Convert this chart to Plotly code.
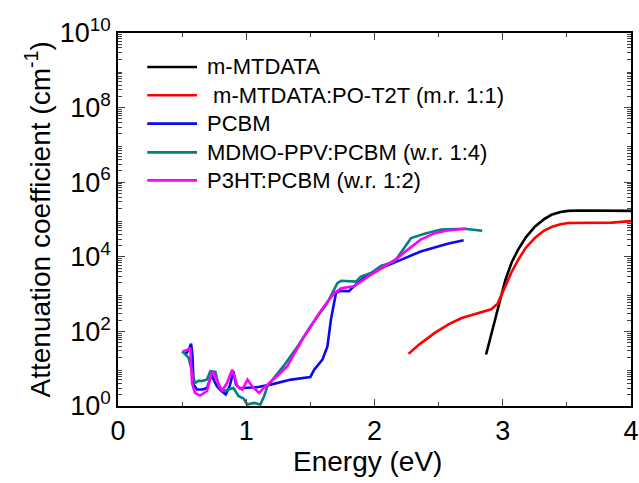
import plotly.graph_objects as go

# m-MTDATA
e_mtdata = [2.87, 2.92, 2.97, 3.02, 3.07, 3.12, 3.18, 3.25, 3.32, 3.38, 3.45, 3.51, 3.60, 3.80, 4.00]
a_mtdata = [24, 115, 529, 2385, 7130, 15580, 33250, 64440, 100600, 133700, 158400, 170000,
            174200, 174200, 170000]

# m-MTDATA:PO-T2T (m.r. 1:1)
e_blend = [2.265, 2.35, 2.47, 2.58, 2.68, 2.78, 2.86, 2.91, 2.96, 3.02, 3.07, 3.12, 3.18, 3.25, 3.32,
           3.38, 3.45, 3.51, 3.70, 3.85, 4.00]
a_blend = [25, 45, 91, 156, 228, 288, 341, 393, 556, 1610, 3970, 8240, 17560, 31770, 49610,
           62980, 74610, 80600, 82480, 82480, 90440]

# PCBM
e_pcbm = [0.506, 0.53, 0.55, 0.57, 0.58, 0.59, 0.616, 0.66, 0.694, 0.715, 0.73, 0.75, 0.77, 0.80,
          0.84, 0.87, 0.90, 0.92, 0.95, 0.98, 1.085, 1.19, 1.35, 1.50, 1.53, 1.594, 1.633, 1.66,
          1.70, 1.737, 1.80, 1.84, 1.945, 2.08, 2.21, 2.36, 2.57, 2.695]
a_pcbm = [29.3, 24.7, 31.5, 47, 24.7, 3.74, 2.77, 2.77, 3.05, 4.77, 6.92, 4.77, 3.41, 2.65,
          2.04, 3.34, 8.55, 3.74, 2.97, 3.05, 3.19, 3.74, 5.1, 6.0, 9.4, 17.5, 39.6, 205,
          1087, 1220, 1191, 1615, 3260, 5470, 8240, 13850, 22300, 27600]

# MDMO-PPV:PCBM (w.r. 1:4)
e_mdmo = [0.50, 0.55, 0.577, 0.60, 0.63, 0.655, 0.694, 0.72, 0.76, 0.785, 0.825, 0.86, 0.90, 0.94,
          0.98, 1.007, 1.06, 1.11, 1.14, 1.165, 1.29, 1.40, 1.50, 1.63, 1.71, 1.74, 1.855, 1.894,
          1.97, 2.05, 2.155, 2.23, 2.285, 2.39, 2.52, 2.70, 2.84]
a_mdmo = [29.3, 19.8, 8.55, 4.13, 4.77, 4.66, 5.12, 8.55, 8.15, 3.41, 2.52, 2.70, 3.05, 1.86,
          1.57, 1.10, 1.21, 1.10, 1.86, 3.41, 11.7, 39.6, 135, 565, 1970, 2270, 2165, 2940,
          3625, 5690, 7380, 16900, 31770, 41300, 53600, 56300, 50000]

# P3HT:PCBM (w.r. 1:2)
e_p3ht = [0.506, 0.54, 0.564, 0.577, 0.60, 0.64, 0.694, 0.715, 0.733, 0.75, 0.77, 0.81, 0.85, 0.89,
          0.91, 0.93, 0.97, 1.01, 1.045, 1.10, 1.15, 1.24, 1.32, 1.40, 1.45, 1.50, 1.55, 1.60,
          1.685, 1.74, 1.84, 1.95, 2.08, 2.18, 2.26, 2.36, 2.47, 2.57, 2.71]
a_p3ht = [29.3, 31.5, 36.2, 4.13, 2.24, 1.90, 2.52, 5.35, 8.55, 7.25, 5.10, 2.52, 4.13, 9.4,
          6.0, 3.41, 2.77, 5.10, 3.41, 2.24, 3.41, 6.3, 11.7, 35.3, 71, 128, 247, 435,
          1060, 1440, 1615, 2940, 5470, 9180, 15580, 28900, 43100, 50800, 56300]

series = [
    ("m-MTDATA", e_mtdata, a_mtdata, "#000000"),
    ("\u00a0m-MTDATA:PO-T2T (m.r. 1:1)", e_blend, a_blend, "#ff0000"),
    ("PCBM", e_pcbm, a_pcbm, "#0a0af0"),
    ("MDMO-PPV:PCBM (w.r. 1:4)", e_mdmo, a_mdmo, "#008080"),
    ("P3HT:PCBM (w.r. 1:2)", e_p3ht, a_p3ht, "#ff00ff"),
]

x_title = "Energy (eV)"
y_title = "Attenuation coefficient (cm<sup>-1</sup>)"
x_ticks = [0, 1, 2, 3, 4]
y_label_exps = [0, 2, 4, 6, 8, 10]
y_labelvals = [10 ** k for k in y_label_exps]
y_labeltext = [f"10<sup>{k}</sup>" for k in y_label_exps]
y_decades = [10 ** k for k in range(0, 11)]
y_minor = [m * 10 ** k for k in range(0, 10) for m in range(2, 10)]

font_family = "Liberation Sans, Arial, sans-serif"

fig = go.Figure()
for name, x, y, color in series:
    fig.add_trace(go.Scatter(x=x, y=y, mode="lines", name=name, showlegend=False,
                             line=dict(color=color, width=2.6)))

# legend drawn as short line samples with labels, top-left inside the frame
legend_x0, legend_x1, legend_tx = 0.057, 0.154, 0.170
legend_rows = [0.909, 0.833, 0.757, 0.680, 0.605]
for (name, _, _, color), ly in zip(series, legend_rows):
    fig.add_shape(type="line", xref="paper", yref="paper",
                  x0=legend_x0, x1=legend_x1, y0=ly, y1=ly,
                  line=dict(color=color, width=2.6))
    fig.add_annotation(xref="paper", yref="paper", x=legend_tx, y=ly,
                       xanchor="left", yanchor="middle", showarrow=False,
                       text=name, font=dict(size=22, color="black"))

# axis titles
fig.add_annotation(xref="paper", yref="paper", x=0.487, y=-0.149,
                   xanchor="center", yanchor="middle", showarrow=False,
                   text=x_title, font=dict(size=28, color="black"))
fig.add_annotation(xref="paper", yref="paper", x=-0.156, y=0.5,
                   xanchor="center", yanchor="middle", showarrow=False, textangle=-90,
                   text=y_title, font=dict(size=28, color="black"))

frame = dict(showline=True, linecolor="black", linewidth=1.8, mirror="allticks",
             showgrid=False, zeroline=False, automargin=False)

fig.update_layout(
    width=639, height=483,
    margin=dict(l=118, r=8, t=33, b=77, autoexpand=False),
    paper_bgcolor="white", plot_bgcolor="white",
    font=dict(family=font_family, size=28, color="black"),
    showlegend=False,
    xaxis=dict(range=[0, 4], tickmode="array", tickvals=x_ticks,
               ticks="inside", ticklen=7, tickwidth=1.2,
               tickfont=dict(size=27),
               minor=dict(ticks="inside", ticklen=4, dtick=0.5, tick0=0, showgrid=False),
               **frame),
    # labelled decades plus minor ticks
    yaxis=dict(type="log", range=[0, 10], tickmode="array",
               tickvals=y_labelvals, ticktext=y_labeltext,
               ticks="inside", ticklen=7, tickwidth=1.2,
               tickfont=dict(size=27),
               minor=dict(ticks="inside", ticklen=4, tickmode="array",
                          tickvals=y_minor, showgrid=False),
               **frame),
    # companion axis carrying a major tick at every decade
    yaxis2=dict(type="log", range=[0, 10], overlaying="y", side="left",
                tickmode="array", tickvals=y_decades, showticklabels=False,
                ticks="inside", ticklen=7, tickwidth=1.2,
                **frame),
)

fig.write_html("out.html")
